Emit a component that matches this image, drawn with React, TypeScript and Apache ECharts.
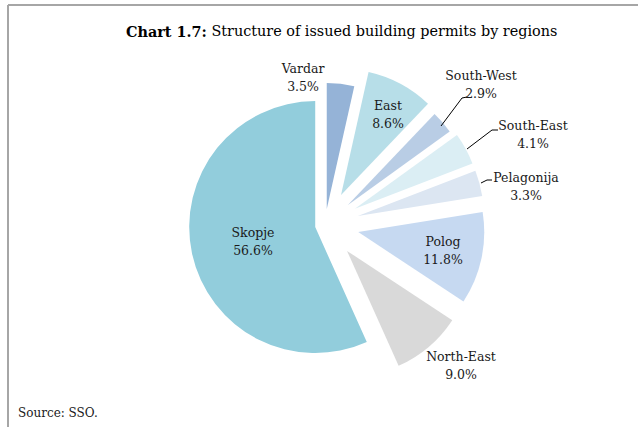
import React, { useEffect, useRef } from 'react';
import * as echarts from 'echarts';

const regions = ['Vardar', 'East', 'South-West', 'South-East', 'Pelagonija', 'Polog', 'North-East', 'Skopje'];
const shares = [3.5, 8.6, 2.9, 4.1, 3.3, 11.8, 9.0, 56.6];
const sliceColors = ['#95b3d7', '#b7dee8', '#b9cde5', '#dbeef4', '#dce6f2', '#c6d9f1', '#d9d9d9', '#92cddc'];

const titleBold = 'Chart 1.7:';
const titleText = ' Structure of issued building permits by regions';
const sourceText = 'Source: SSO.';

const FONT = 'DejaVu Serif';

// explosion distance of each slice (style)
const explode: Record<string, number> = { Skopje: 10, Vardar: 16, 'South-West': 30 };
const defaultExplode = 34;

// label centres (layout)
const labelPos: Record<string, [number, number]> = {
  Vardar: [303, 77],
  East: [388, 114],
  'South-West': [481, 84],
  'South-East': [533, 134],
  Pelagonija: [526, 186],
  Polog: [443, 250],
  'North-East': [461, 365],
  Skopje: [253, 241],
};

// leader lines (layout)
const leaderLines: Record<string, number[][]> = {
  'South-West': [[441, 126], [462, 98], [467, 97]],
  'South-East': [[467, 149], [492, 130], [498, 130]],
  Pelagonija: [[481, 183], [487, 180], [492, 180]],
};

function explodeOf(name: string) {
  return explode[name] ?? defaultExplode;
}

export default function App() {
  const ref = useRef<HTMLDivElement>(null);
  useEffect(() => {
    if (!ref.current) return;
    const chart = echarts.init(ref.current, null, { renderer: 'svg' });

    const offsets = Array.from(new Set(regions.map(explodeOf)));
    const series = offsets.map((off) => ({
      type: 'pie',
      name: 'explode-' + off,
      center: [325, 225],
      radius: [0, 126],
      startAngle: 90,
      clockwise: true,
      selectedMode: 'multiple',
      selectedOffset: off,
      avoidLabelOverlap: false,
      silent: true,
      emphasis: { disabled: true },
      label: { show: false },
      labelLine: { show: false },
      itemStyle: { borderWidth: 0 },
      data: regions.map((name, i) => {
        const visible = explodeOf(name) === off;
        return {
          name,
          value: shares[i],
          selected: visible,
          itemStyle: { color: visible ? sliceColors[i] : 'rgba(0,0,0,0)' },
        };
      }),
    }));

    const labelTexts = regions.map((name, i) => ({
      type: 'text',
      x: labelPos[name][0],
      y: labelPos[name][1],
      style: {
        text: `${name}\n${shares[i].toFixed(1)}%`,
        align: 'center',
        verticalAlign: 'middle',
        fontFamily: FONT,
        fontSize: 12.5,
        lineHeight: 18,
        fill: '#1a1a1a',
      },
      z: 10,
    }));

    const lines = Object.keys(leaderLines).map((name) => ({
      type: 'polyline',
      shape: { points: leaderLines[name] },
      style: { stroke: '#000', lineWidth: 1, fill: 'none' },
      z: 10,
    }));

    chart.setOption({
      animation: false,
      backgroundColor: '#ffffff',
      title: {
        text: `{b|${titleBold}}{r|${titleText}}`,
        left: 121,
        top: 19,
        textStyle: {
          rich: {
            b: { fontFamily: FONT, fontSize: 14.4, fontWeight: 'bold', color: '#000' },
            r: { fontFamily: FONT, fontSize: 14.4, fontWeight: 'normal', color: '#000' },
          },
        },
      },
      graphic: [
        { type: 'line', shape: { x1: 8, y1: 5, x2: 638, y2: 5 }, style: { stroke: '#a6a6a6', lineWidth: 2 } },
        { type: 'line', shape: { x1: 8, y1: 5, x2: 8, y2: 427 }, style: { stroke: '#a6a6a6', lineWidth: 2 } },
        {
          type: 'text',
          x: 18,
          y: 413,
          style: { text: sourceText, fontFamily: FONT, fontSize: 12, fill: '#1a1a1a', verticalAlign: 'middle' },
        },
        ...labelTexts,
        ...lines,
      ],
      series,
    });
    return () => chart.dispose();
  }, []);
  return <div ref={ref} style={{ position: 'absolute', left: 0, top: 0, width: 638, height: 427 }} />;
}
